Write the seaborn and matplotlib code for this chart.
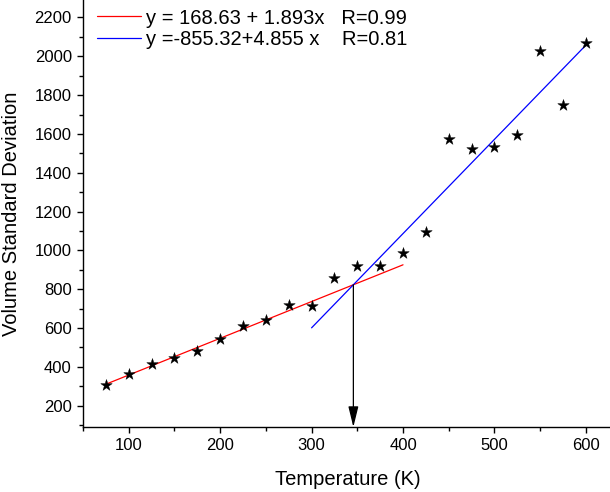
import numpy as np
import pandas as pd
import matplotlib
matplotlib.use("Agg")
import matplotlib.pyplot as plt
import seaborn as sns
from matplotlib.ticker import MultipleLocator

# --- data ---
temperature = [75, 100, 125, 150, 175, 200, 225, 250, 275, 300, 325,
               350, 375, 400, 425, 450, 475, 500, 525, 550, 575, 600]
volume_std = [308, 365, 415, 447, 480, 543, 610, 640, 720, 712, 858,
              918, 920, 988, 1093, 1575, 1522, 1533, 1595, 2025, 1750, 2068]

# linear fits (intercept, slope) and the x range each one covers
red_fit = (168.63, 1.893)
red_range = [75, 400]
blue_fit = (-855.32, 4.855)
blue_range = [300, 600]
red_label = "y = 168.63 + 1.893x   R=0.99"
blue_label = "y =-855.32+4.855 x    R=0.81"

sns.set_style("ticks")
plt.rcParams["font.family"] = ["Liberation Sans", "DejaVu Sans"]
plt.rcParams["text.color"] = "black"
plt.rcParams["axes.labelcolor"] = "black"

fig = plt.figure(figsize=(6.1, 4.92), dpi=100)
ax = fig.add_axes([0.136, 0.132, 0.868, 0.868])

df = pd.DataFrame({"T": temperature, "V": volume_std})
sns.scatterplot(data=df, x="T", y="V", marker="*", s=75, color="black",
                edgecolor="black", linewidth=0.3, ax=ax, zorder=3)

def fit_frame(fit, xr):
    xs = np.array(xr, dtype=float)
    return pd.DataFrame({"T": xs, "V": fit[0] + fit[1] * xs})

sns.lineplot(data=fit_frame(red_fit, red_range), x="T", y="V", color="#ff0000",
             lw=0.9, ax=ax, label=red_label)
sns.lineplot(data=fit_frame(blue_fit, blue_range), x="T", y="V", color="#0000ff",
             lw=0.9, ax=ax, label=blue_label)

# intersection of the two fits, arrow down to the axis
x_cross = (red_fit[0] - blue_fit[0]) / (blue_fit[1] - red_fit[1])
y_cross = red_fit[0] + red_fit[1] * x_cross

ax.set_xlim(50, 629)
ax.set_ylim(90, 2290)

ax.annotate("", xy=(x_cross, 90), xytext=(x_cross, y_cross),
            arrowprops=dict(arrowstyle="-|>,head_length=0.9,head_width=0.22",
                            color="black", lw=0.9, shrinkA=0, shrinkB=0,
                            mutation_scale=14))

ax.xaxis.set_major_locator(MultipleLocator(100))
ax.xaxis.set_minor_locator(MultipleLocator(50))
ax.yaxis.set_major_locator(MultipleLocator(200))
ax.yaxis.set_minor_locator(MultipleLocator(100))
ax.set_xticks([100, 200, 300, 400, 500, 600])
ax.set_yticks(range(200, 2201, 200))
ax.tick_params(which="major", direction="out", length=4.5, width=1.0,
               labelsize=12, color="black", labelcolor="black")
ax.tick_params(which="minor", direction="out", length=3, width=1.0, color="black")

for side in ["top", "right"]:
    ax.spines[side].set_visible(False)
for side in ["left", "bottom"]:
    ax.spines[side].set_linewidth(1.0)
    ax.spines[side].set_color("black")

ax.set_xlabel("Temperature (K)", fontsize=14.5, labelpad=12)
ax.set_ylabel("Volume Standard Deviation", fontsize=14.5, labelpad=10)

ax.legend(loc="upper left", bbox_to_anchor=(0.0, 1.013), frameon=False,
          fontsize=14.5, handlelength=2.2, handletextpad=0.25,
          labelspacing=0.12, borderaxespad=0.3)

fig.savefig("out.png", dpi=100)
